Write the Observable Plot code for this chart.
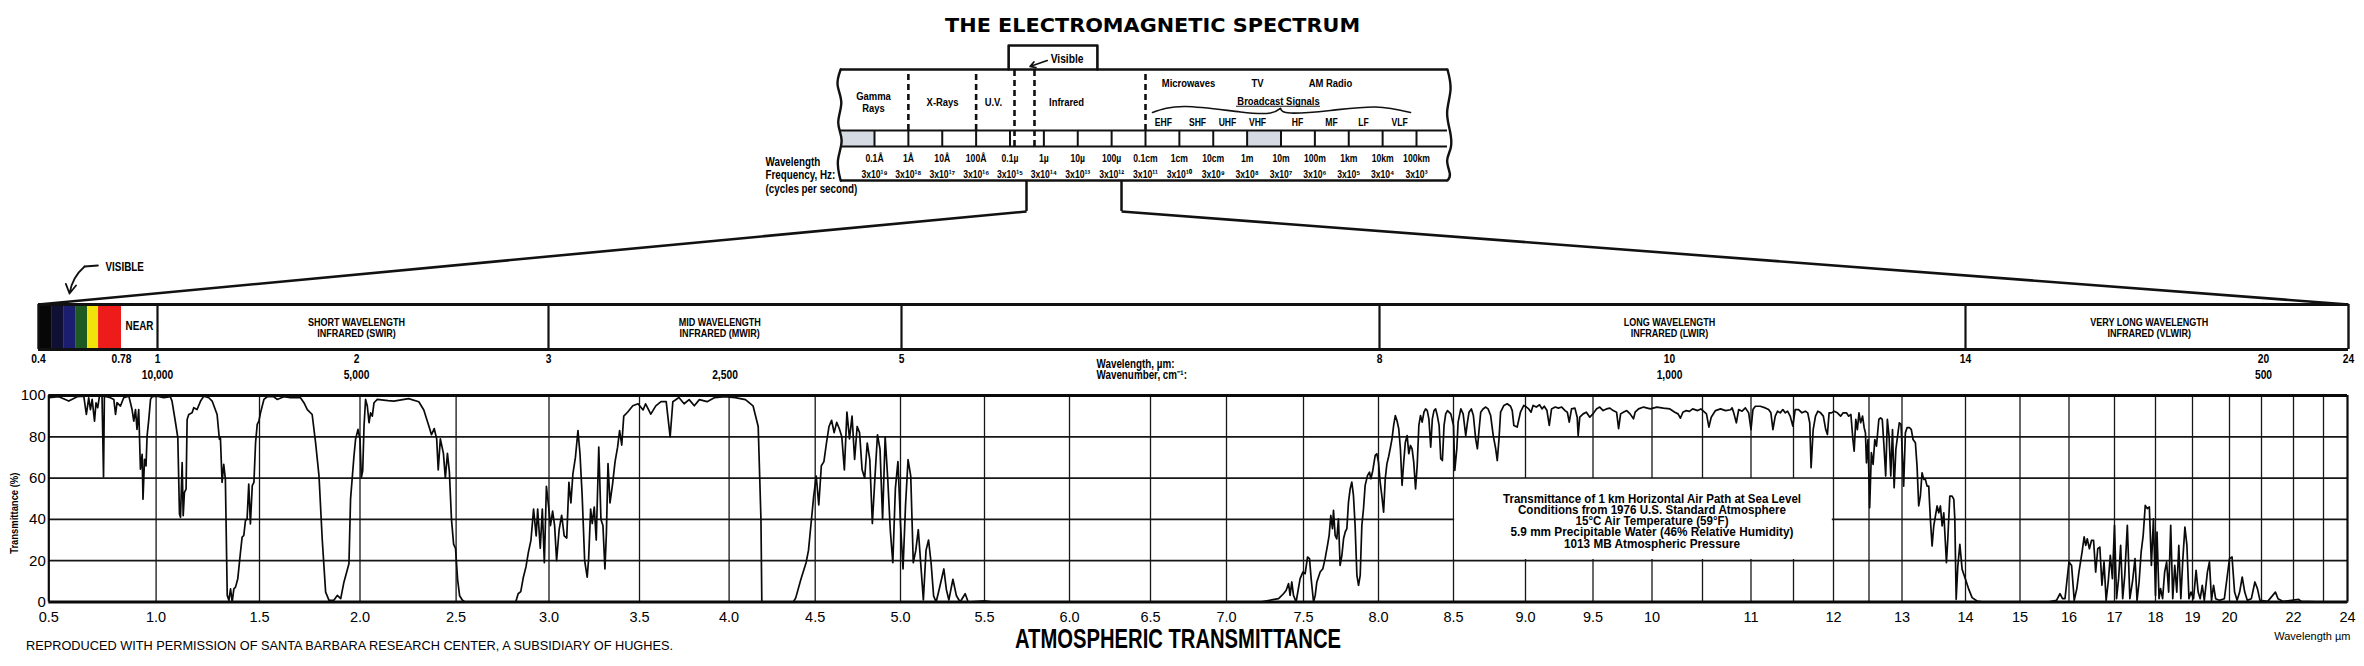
<!DOCTYPE html>
<html><head><meta charset="utf-8">
<script src="https://cdn.jsdelivr.net/npm/d3@7"></script>
<script src="https://cdn.jsdelivr.net/npm/@observablehq/plot@0.6"></script>
<style>
html,body{margin:0;padding:0;background:#fff}
#root{position:relative;width:2364px;height:666px;background:#fff;overflow:hidden}
#root > svg{position:absolute;left:0}
</style></head><body><div id="root"></div>
<script>
// ---------------- DATA ----------------
// Electromagnetic spectrum diagram: x = log10(wavelength / m)
const emDecades = [-11,-10,-9,-8,-7,-6,-5,-4,-3,-2,-1,0,1,2,3,4,5];
const emWavelengthLabels = ["0.1Å","1Å","10Å","100Å","0.1µ","1µ","10µ","100µ","0.1cm","1cm","10cm","1m","10m","100m","1km","10km","100km"];
const emFrequencyLabels = ["3x10¹⁹","3x10¹⁸","3x10¹⁷","3x10¹⁶","3x10¹⁵","3x10¹⁴","3x10¹³","3x10¹²","3x10¹¹","3x10¹⁰","3x10⁹","3x10⁸","3x10⁷","3x10⁶","3x10⁵","3x10⁴","3x10³"];
const emRegionNames = ["Gamma","Rays","X-Rays","U.V.","Infrared","Microwaves","TV","AM Radio","Broadcast Signals"];
const emRegionAt = [-11.03,-11.03,-8.99,-7.49,-5.33,-1.73,0.306,2.46,0.926];
const emBandNames = ["EHF","SHF","UHF","VHF","HF","MF","LF","VLF"];
const emBandAt = [-2.47,-1.465,-0.58,0.306,1.487,2.49,3.435,4.50];
const emBoundaries = [-10,-8,-3];          // Gamma|X, X|UV, IR|Microwave
const emVisibleBounds = [-6.867,-6.277];   // visible slice
const emShadedCells = [[-12,-11],[0,1]];
const emVisibleBox = [-7.04,-4.42];
const emFanStubs = [-6.513,-3.708];

// Infrared band bar: x = wavelength (µm)
const bandTicks = [0.4,0.78,1,2,3,5,8,10,14,20,24];
const bandDividers = [1,3,5,8,14];
const visibleEdges = [0.40,0.46,0.515,0.57,0.625,0.675,0.78];
const visibleColors = ["#070707","#0f1034","#1c1d6e","#1c5a22","#f2e20c","#ee1b1b"];
const irBandNames = [["SHORT WAVELENGTH","INFRARED (SWIR)"],["MID WAVELENGTH","INFRARED (MWIR)"],["LONG WAVELENGTH","INFRARED (LWIR)"],["VERY LONG WAVELENGTH","INFRARED (VLWIR)"]];
const irBandAt = [2,3.97,10,17.7];
const wavenumberAt = [1,2,4,10,20];
const wavenumberLabels = ["10,000","5,000","2,500","1,000","500"];
const fanOrigins = [5.785,6.381];
const fanTargets = [0.4,24];

// Atmospheric transmittance chart
const xGrid = [0.5,1,1.5,2,2.5,3,3.5,4,4.5,5,5.5,6,6.5,7,7.5,8,8.5,9,9.5,10,10.5,11,11.5,12,12.5,13,14,15,16,17,18,19,20,21,22,23,24];
const xTicks = [0.5,1,1.5,2,2.5,3,3.5,4,4.5,5,5.5,6,6.5,7,7.5,8,8.5,9,9.5,10,11,12,13,14,15,16,17,18,19,20,22,24];
const xTickLabels = ["0.5","1.0","1.5","2.0","2.5","3.0","3.5","4.0","4.5","5.0","5.5","6.0","6.5","7.0","7.5","8.0","8.5","9.0","9.5","10","11","12","13","14","15","16","17","18","19","20","22","24"];
const yTicks = [0,20,40,60,80,100];
const noteLines = ["Transmittance of 1 km Horizontal Air Path at Sea Level","Conditions from 1976 U.S. Standard Atmosphere","15°C Air Temperature (59°F)","5.9 mm Precipitable Water (46% Relative Humidity)","1013 MB Atmospheric Pressure"];
const noteBox = {x1:8.5, x2:12, y1:20, y2:60};

// transmittance (%) vs wavelength (µm)
const tVisNir = [[0.500,99.0],[0.547,99.4],[0.593,97.3],[0.632,99.4],[0.663,99.7],[0.675,90.8],[0.686,98.9],[0.694,93.2],[0.702,98.1],[0.713,87.6],[0.720,96.5],[0.728,94.1],[0.736,99.7],[0.748,99.7],[0.755,60.6],[0.759,99.7],[0.787,98.9],[0.803,98.1],[0.811,90.8],[0.818,96.5],[0.834,94.9],[0.849,98.9],[0.873,99.7],[0.888,93.2],[0.896,87.6],[0.904,93.2],[0.911,83.6],[0.919,93.2],[0.927,64.3],[0.935,71.5],[0.939,49.8],[0.946,69.1],[0.953,65.9],[0.958,80.4],[0.966,88.4],[0.974,98.1],[0.981,99.4],
[1.005,99.7],[1.037,98.9],[1.069,99.4],[1.077,97.3],[1.094,86.8],[1.105,79.6],[1.113,42.6],[1.118,41.0],[1.126,67.5],[1.131,41.8],[1.137,53.1],[1.145,54.7],[1.150,88.4],[1.158,90.8],[1.174,91.6],[1.182,94.1],[1.198,93.2],[1.215,97.3],[1.231,99.7],[1.255,98.9],[1.271,97.3],[1.295,90.8],[1.306,78.8],[1.311,79.6],[1.319,57.9],[1.327,66.7],[1.335,59.5],[1.344,3.2],[1.352,0.8],[1.360,6.4],[1.368,0],[1.376,6.4],[1.384,7.2],[1.395,11.3],[1.408,24.1],[1.416,31.4],[1.424,32.2],[1.432,39.4],[1.440,40.2],[1.448,57.1],[1.456,37.8],[1.465,56.3],[1.473,57.9],[1.481,77.2],[1.489,86.0],[1.497,87.6]];
const tSwir = [[1.505,91.6],[1.522,98.1],[1.538,99.4],[1.571,99.4],[1.588,98.1],[1.621,99.4],[1.654,98.9],[1.704,98.9],[1.721,96.5],[1.738,93.2],[1.762,90.8],[1.779,77.2],[1.796,61.1],[1.812,30.5],[1.829,4.8],[1.846,0.8],[1.870,0.8],[1.887,3.2],[1.904,1.6],[1.920,9.6],[1.945,18.5],[1.953,49.8],[1.970,70.7],[1.978,78.8],[1.990,83.6],[2.000,78.8],
[2.007,60.3],[2.014,63.5],[2.021,85.2],[2.029,98.1],[2.038,94.9],[2.047,86.8],[2.055,91.6],[2.064,90.0],[2.073,96.5],[2.090,98.1],[2.146,97.5],[2.176,97.3],[2.253,98.5],[2.306,97],[2.332,93],[2.359,85],[2.372,81],[2.386,84],[2.399,79],[2.407,64],[2.418,79],[2.434,72],[2.444,60],[2.455,72],[2.465,63],[2.476,40],[2.487,28],[2.497,26],[2.508,11],[2.519,3],[2.533,1],[2.547,0]];
const tMwir = [[2.821,0],[2.834,4],[2.848,5],[2.862,12],[2.876,17],[2.889,24],[2.903,30],[2.917,45],[2.931,32],[2.939,45],[2.953,26],[2.964,45],[2.975,19],[2.986,56],[2.997,47],[3.008,37],[3.020,44],[3.031,37],[3.042,20],[3.056,35],[3.070,42],[3.084,32],[3.098,31],[3.110,58],[3.121,48],[3.132,62],[3.146,70],[3.160,83],[3.171,72],[3.183,52],[3.197,20],[3.211,12],[3.219,21],[3.230,45],[3.239,38],[3.250,46],[3.261,30],[3.275,75],[3.287,40],[3.298,37],[3.309,16],[3.317,33],[3.326,67],[3.337,48],[3.351,57],[3.365,68],[3.379,75],[3.390,83],[3.402,76],[3.413,90],[3.435,92],[3.463,95],[3.492,96],[3.520,93],[3.534,96],[3.563,91],[3.591,95],[3.620,97],[3.649,97],[3.671,80],[3.686,97],[3.720,99],[3.749,96],[3.777,98],[3.806,95],[3.834,98],[3.877,97],[3.920,99],[3.977,99.5],[4.035,99],[4.095,98],[4.139,95],[4.169,85],[4.185,40],[4.190,0],
[4.299,0],[4.373,0],[4.387,2],[4.417,11],[4.447,19],[4.461,25],[4.476,38],[4.491,51],[4.506,61],[4.521,47],[4.536,66],[4.551,68],[4.566,77],[4.581,85],[4.596,88],[4.611,82],[4.626,87],[4.641,84],[4.656,80],[4.671,64],[4.686,92],[4.701,79],[4.716,90],[4.731,69],[4.746,85],[4.760,82],[4.775,64],[4.790,60],[4.805,77],[4.820,69],[4.835,38],[4.850,60],[4.865,81],[4.880,74],[4.895,40],[4.910,80],[4.925,60],[4.940,35],[4.955,19],[4.970,55],[4.985,68],[5.000,38],[5.015,16],[5.030,47],[5.045,69],[5.061,61],[5.076,19],[5.091,25],[5.106,35],[5.121,18],[5.136,1],[5.152,25],[5.167,30],[5.182,19],[5.197,3],[5.212,0],[5.227,5],[5.258,16],[5.273,6],[5.288,1],[5.312,11],[5.333,3],[5.355,0],[5.385,4],[5.403,0],[5.5,0.5],[5.55,0]];
const tLwir = [[7.219,0],[7.338,1.6],[7.370,4],[7.387,5.6],[7.403,8.9],[7.413,3.2],[7.424,9.7],[7.435,3.2],[7.452,0],[7.478,11.3],[7.496,14.5],[7.511,13.7],[7.527,21.8],[7.540,21],[7.551,11.3],[7.567,0],[7.578,3.2],[7.589,9.7],[7.611,14.5],[7.629,16.1],[7.644,21],[7.660,27.4],[7.671,32.3],[7.682,41.9],[7.693,35.5],[7.700,44.4],[7.711,32.3],[7.722,30.6],[7.733,40.3],[7.744,17.7],[7.756,22.6],[7.767,30.6],[7.778,33.9],[7.789,35.5],[7.800,48.4],[7.811,54.8],[7.822,58.1],[7.833,51.6],[7.844,37.1],[7.856,12.9],[7.867,8.1],[7.878,12.9],[7.889,37.1],[7.900,45.2],[7.911,56.5],[7.927,61.3],[7.940,62.9],[7.949,59.7],[7.962,63.7],[7.978,71],[7.989,71.8],[8.000,67.7],[8.011,58.1],[8.022,51.6],[8.034,43.5],[8.045,59.7],[8.056,66.9],[8.067,70.2],[8.078,74.2],[8.090,79],[8.101,85.5],[8.112,90.3],[8.123,87.9],[8.135,83.9],[8.146,74.2],[8.157,56.5],[8.168,67.7],[8.179,77.4],[8.191,80.6],[8.202,71.8],[8.213,75.8],[8.224,74.2],[8.235,67.7],[8.247,54.8],[8.258,66.1],[8.269,85.5],[8.280,90.3],[8.291,87.1],[8.303,91.9],[8.314,93.5],[8.325,92.7],[8.336,88.7],[8.348,75],[8.359,88.7],[8.370,92.7],[8.381,93.5],[8.392,90.3],[8.404,85.5],[8.415,69.4],[8.426,68.5],[8.437,85.5],[8.448,91.1],[8.460,92.7],[8.482,91.1],[8.500,85.5],[8.509,63.7],[8.523,74.2],[8.532,87.1],[8.551,93.5],[8.567,91.1],[8.585,80.6],[8.597,87.1],[8.608,91.9],[8.624,93.5],[8.638,90.3],[8.654,79],[8.666,74.2],[8.677,83],[8.689,91.9],[8.705,93.5],[8.724,94.4],[8.740,93.5],[8.758,90.3],[8.776,80.6],[8.793,74.2],[8.804,68.5],[8.816,79],[8.827,91.9],[8.850,95.2],[8.873,96],[8.896,94.8],[8.908,92.7],[8.919,85.5],[8.942,84.7],[8.965,91.9],[8.988,95.2],[9.007,94.4],[9.024,93.5],[9.041,91.9],[9.056,95.2],[9.080,94.4],[9.105,95.5],[9.122,93.5],[9.139,94.8],[9.159,92.7],[9.176,85.5],[9.193,93.5],[9.220,94.4],[9.244,93.9],[9.268,94.4],[9.293,92.7],[9.310,91.9],[9.324,87.1],[9.341,93.5],[9.366,93.9],[9.383,89.5],[9.390,80.6],[9.402,89.5],[9.427,91.1],[9.451,91.9],[9.476,89.5],[9.500,91.1],[9.529,93.5],[9.557,94.4],[9.586,92.7],[9.614,93.5],[9.643,93.9],[9.671,92.7],[9.700,91.9],[9.717,84],[9.734,91.1],[9.757,91.9],[9.786,92.7],[9.814,91.1],[9.843,88.7],[9.857,91.9],[9.886,93.5],[9.929,94.4],[9.986,93.5],[10.048,94.4],[10.113,93.9],[10.177,93.5],[10.226,91.9],[10.258,91.1],[10.281,89],[10.306,91.9],[10.339,92.7],[10.371,92.3],[10.403,93.5],[10.452,92.7],[10.484,93.5],[10.541,91.1],[10.566,84.7],[10.590,89.5],[10.634,92.7],[10.686,93.5],[10.738,92.7],[10.790,93.1]];
const tLwir2 = [[10.805,94],[10.822,91.6],[10.849,86.8],[10.873,93.2],[10.908,92.4],[10.942,94],[10.976,91.6],[11.000,83.5],[11.023,93.2],[11.051,94.8],[11.109,94.8],[11.168,94],[11.207,93.2],[11.234,91.6],[11.258,83.5],[11.285,90],[11.313,92.4],[11.344,91.6],[11.375,93.2],[11.402,91.6],[11.430,92.4],[11.461,90],[11.492,85.2],[11.521,93.2],[11.564,93.2],[11.606,91.6],[11.648,92.4],[11.678,91.6],[11.703,86.8],[11.720,65],[11.746,83.5],[11.775,90],[11.805,92.4],[11.839,91.6],[11.873,90],[11.903,83.5],[11.924,81.1],[11.945,91.6],[11.975,91.6],[12.009,92.4],[12.055,91.6],[12.100,90],[12.136,91.6],[12.182,91.6],[12.214,90],[12.245,90.8],[12.273,78.7],[12.291,73],[12.314,88.4],[12.336,83.5],[12.359,91.6],[12.382,86.8],[12.409,90],[12.432,84.4],[12.450,81.9],[12.464,67.4],[12.486,78.7],[12.510,45.6],[12.536,72.3],[12.562,66.6],[12.588,78.7],[12.613,75.5],[12.649,88.4],[12.675,89.2],[12.701,88.4],[12.727,75.5],[12.753,61],[12.778,88.4],[12.804,80.3],[12.830,61],[12.856,83.5],[12.881,55.3],[12.907,73.9],[12.933,80.3],[12.959,86.8],[12.985,86],[13.000,75.5],[13.026,56.1],[13.053,81.9],[13.079,84.4],[13.121,84.4],[13.147,83.5],[13.174,78.7],[13.211,77.1],[13.237,65.8],[13.263,46.5],[13.289,51.3],[13.316,62.6],[13.342,59.4],[13.368,59.4],[13.395,56.1],[13.421,56.1],[13.447,40],[13.474,27.1],[13.500,36.8],[13.526,41.6],[13.553,46.5],[13.579,43.2],[13.605,46.5],[13.632,36.8],[13.658,43.2],[13.700,19],[13.721,30.3],[13.753,51.3],[13.789,51.3],[13.816,49.7],[13.832,40],[13.853,1.3],[13.879,17.4],[13.911,27.9],[13.947,15.8],[14.000,11],[14.061,6.1],[14.121,2.1],[14.212,0.5],[14.333,0]];
const tVlwir = [[15.561,0],[15.745,0.8],[15.816,4],[15.867,1.6],[15.918,1.6],[16.000,19.4],[16.057,17.7],[16.115,0.8],[16.172,6.5],[16.218,14.5],[16.287,24.2],[16.333,31.5],[16.368,27.4],[16.402,30.6],[16.448,25.8],[16.494,29.8],[16.540,29.8],[16.586,14.5],[16.632,25.8],[16.678,26.6],[16.724,8.1],[16.770,19.4],[16.816,0.8],[16.862,9.7],[16.908,22.6],[16.954,11.3],[17.000,37.1],[17.050,1.6],[17.100,11.3],[17.150,27.4],[17.200,1.6],[17.250,12.9],[17.313,37.1],[17.375,1.6],[17.438,9.7],[17.500,21],[17.550,0.8],[17.600,9.7],[17.650,24.2],[17.700,32.3],[17.750,46.8],[17.800,45.2],[17.850,46],[17.900,17.7],[17.950,40.3],[18.000,3.2],[18.041,33.9],[18.096,1.6],[18.137,6.5],[18.192,1.6],[18.247,14.5],[18.301,19.4],[18.356,4.8],[18.411,37.1],[18.466,1.6],[18.521,17.7],[18.575,4.8],[18.630,27.4],[18.685,1.6],[18.740,21],[18.795,36.3],[18.849,27.4],[18.904,1.6],[18.959,4.8],[19.028,1.6],[19.097,15.3],[19.153,4.8],[19.208,1.6],[19.264,8.1],[19.319,0.8],[19.403,14.5],[19.458,19.4],[19.514,0.8],[19.569,8.1],[19.625,1.6],[19.722,0.8],[19.861,1.6],[19.931,11.3],[20.000,21],[20.079,21.8],[20.159,4.8],[20.238,0.8],[20.317,4.8],[20.397,12.1],[20.476,4.8],[20.556,0.8],[20.683,1.6],[20.794,9.7],[20.873,6.5],[20.952,0.8],[21.194,0.3],[21.435,4.8],[21.516,1.6],[21.677,0.3],[22.172,1.3],[22.259,0.3],[23.0,0],[24.0,0]];

// ---------------- LAYOUT ----------------
const NARROW = "'Liberation Sans',Arial,sans-serif";        // condensed below to mimic a narrow face
const SANS = "'Liberation Sans',Helvetica,sans-serif";
const W = 2364;
const root = document.getElementById("root");
const transparent = {background: "transparent", overflow: "visible"};

// row levels of the spectrum diagram (0 = bottom line, 1 = top line)
const R = {title:1.396, visTop:1.216, vis:1.099, top:1, radio:0.874, gamma:0.757, region:0.703, rays:0.649,
  broadcast:0.712, underline:0.669, band:0.523, cellTop:0.45, cellBot:0.306, wl:0.198, fq:0.054, bottom:0, stub:-0.279,
  leftWl:0.162, leftFq:0.045, leftCyc:-0.081};
const emLeft = -12, emRight = 5.915;

const p1 = Plot.plot({
  width: W, height: 213, margin: 0, style: transparent,
  x: {type: "linear", domain: [-11, 5], range: [874, 1416], axis: null},
  y: {domain: [0, 1], range: [180, 69], axis: null},
  marks: [
    Plot.rect(emShadedCells, {x1: d => d[0], x2: d => d[1], y1: R.cellBot, y2: R.cellTop, fill: "#d6dae2"}),
    Plot.ruleY([R.top, R.bottom], {x1: emLeft, x2: emRight, stroke: "#111", strokeWidth: 2.6}),
    Plot.ruleY([R.cellTop, R.cellBot], {x1: emLeft, x2: emRight, stroke: "#111", strokeWidth: 2}),
    Plot.ruleX(emDecades, {y1: R.cellBot, y2: R.cellTop, stroke: "#111", strokeWidth: 2}),
    Plot.ruleX(emBoundaries, {y1: R.cellTop, y2: R.top, stroke: "#111", strokeWidth: 2.6, strokeDasharray: "6,4"}),
    Plot.ruleX(emVisibleBounds, {y1: R.cellBot, y2: R.top, stroke: "#111", strokeWidth: 2.6, strokeDasharray: "6,4"}),
    Plot.line([[emLeft,1],[emLeft-0.09,0.86],[emLeft+0.02,0.7],[emLeft-0.07,0.52],[emLeft+0.03,0.36],[emLeft-0.08,0.18],[emLeft,0]], {curve: "natural", stroke: "#111", strokeWidth: 2.4}),
    Plot.line([[emRight,1],[emRight+0.09,0.82],[emRight-0.01,0.62],[emRight+0.07,0.45],[emRight+0.1,0.3],[emRight-0.01,0.18],[emRight+0.07,0.06],[emRight,0]], {curve: "natural", stroke: "#111", strokeWidth: 2.4}),
    Plot.line([[emVisibleBox[0],R.top],[emVisibleBox[0],R.visTop],[emVisibleBox[1],R.visTop],[emVisibleBox[1],R.top]], {stroke: "#111", strokeWidth: 2.6}),
    Plot.arrow([0], {x1: -5.90, y1: 1.081, x2: -6.41, y2: 1.027, stroke: "#111", strokeWidth: 1.6, headLength: 6}),
    Plot.line([[-2.793,0.613],[-1.819,0.667],[-0.196,0.617],[0.69,0.608],[0.985,0.649]], {curve: "natural", stroke: "#111", strokeWidth: 1.6}),
    Plot.line([[0.985,0.649],[1.28,0.608],[2.461,0.631],[3.79,0.662],[4.823,0.613]], {curve: "natural", stroke: "#111", strokeWidth: 1.6}),
    Plot.ruleY([R.underline], {x1: -0.314, x2: 2.166, stroke: "#111", strokeWidth: 1.2}),
    Plot.ruleX(emFanStubs, {y1: R.bottom, y2: R.stub, stroke: "#111", strokeWidth: 2.5}),
    Plot.text(["THE ELECTROMAGNETIC SPECTRUM"], {x: -2.79, y: R.title, text: d => d, fontFamily: "'DejaVu Sans',sans-serif", fontWeight: "bold", fontSize: 20}),
    Plot.text(["Visible"], {x: -5.80, y: R.vis, text: d => d, textAnchor: "start", fontFamily: NARROW, fontWeight: "bold", fontSize: 12.5}),
    Plot.text(emRegionNames, {x: (d, i) => emRegionAt[i], y: (d, i) => [R.gamma, R.rays, R.region, R.region, R.region, R.radio, R.radio, R.radio, R.broadcast][i], text: d => d, fontFamily: NARROW, fontWeight: "bold", fontSize: 11.5}),
    Plot.text(emBandNames, {x: (d, i) => emBandAt[i], y: R.band, text: d => d, fontFamily: NARROW, fontWeight: "bold", fontSize: 10.5}),
    Plot.text(emWavelengthLabels, {x: (d, i) => emDecades[i], y: R.wl, text: d => d, fontFamily: NARROW, fontWeight: "bold", fontSize: 10.5}),
    Plot.text(emFrequencyLabels, {x: (d, i) => emDecades[i], y: R.fq, text: d => d, fontFamily: NARROW, fontWeight: "bold", fontSize: 10.5}),
    Plot.text(["Wavelength","Frequency, Hz:","(cycles per second)"], {x: -14.218, y: (d, i) => [R.leftWl, R.leftFq, R.leftCyc][i], text: d => d, textAnchor: "start", fontFamily: NARROW, fontWeight: "bold", fontSize: 12})
  ]
});
p1.style.top = "0px";
root.appendChild(p1);

// ---------- infrared band bar ----------
const B = {fanTop: 3.067, visText: 1.822, line1: 0.611, line2: 0.356, near: 0.527, tick: -0.222, wn: -0.556, wlLab: -0.333, wnLab: -0.578};
const stripes = visibleColors.map((c, i) => ({x1: visibleEdges[i], x2: visibleEdges[i + 1], c}));
const irLabels = irBandNames.flatMap((lines, i) => lines.map((t, j) => ({t, x: irBandAt[i], y: j === 0 ? B.line1 : B.line2})));
const p2 = Plot.plot({
  width: W, height: 185, margin: 0, style: transparent,
  x: {type: "linear", domain: bandTicks, range: [38,121,157,356,548,901,1379,1669,1965,2263,2348], axis: null},
  y: {domain: [0, 1], range: [144, 99], axis: null},
  marks: [
    Plot.rect(stripes, {x1: "x1", x2: "x2", y1: 0, y2: 1, fill: d => d.c}),
    Plot.ruleX(bandDividers, {y1: 0, y2: 1, stroke: "#111", strokeWidth: 2.2}),
    Plot.ruleY([0, 1], {x1: 0.4, x2: 24, stroke: "#111", strokeWidth: 3}),
    Plot.ruleX([0.4, 24], {y1: 0, y2: 1, stroke: "#111", strokeWidth: 2.4}),
    Plot.link(fanOrigins, {x1: d => d, y1: B.fanTop, x2: (d, i) => fanTargets[i], y2: 1, stroke: "#111", strokeWidth: 2.6}),
    Plot.line([[0.672,1.867],[0.611,1.844]], {stroke: "#111", strokeWidth: 1.8}),
    Plot.arrow([0], {x1: 0.611, y1: 1.844, x2: 0.542, y2: 1.244, bend: -20, stroke: "#111", strokeWidth: 1.8, headLength: 9}),
    Plot.text(["VISIBLE"], {x: 0.707, y: B.visText, text: d => d, textAnchor: "start", fontFamily: NARROW, fontWeight: "bold", fontSize: 12}),
    Plot.text(["NEAR"], {x: 0.89, y: B.near, text: d => d, fontFamily: NARROW, fontWeight: "bold", fontSize: 12}),
    Plot.text(irLabels, {x: "x", y: "y", text: "t", fontFamily: NARROW, fontWeight: "bold", fontSize: 11}),
    Plot.text(bandTicks, {x: d => d, y: B.tick, text: d => String(d), fontFamily: NARROW, fontWeight: "bold", fontSize: 12.5}),
    Plot.text(wavenumberLabels, {x: (d, i) => wavenumberAt[i], y: B.wn, text: d => d, fontFamily: NARROW, fontWeight: "bold", fontSize: 12.5}),
    Plot.text(["Wavelength, µm:", "Wavenumber, cm⁻¹:"], {x: 6.224, y: (d, i) => i ? B.wnLab : B.wlLab, text: d => d, textAnchor: "start", fontFamily: NARROW, fontWeight: "bold", fontSize: 12})
  ]
});
p2.style.top = "205px";
root.appendChild(p2);

// ---------- atmospheric transmittance chart ----------
const curve = [...tVisNir, ...tSwir, ...tMwir, ...tLwir, ...tLwir2, ...tVlwir];
const p3 = Plot.plot({
  width: W, height: 281, marginLeft: 48, marginRight: 17, marginTop: 10, marginBottom: 64.5, style: transparent,
  x: {type: "linear", domain: xGrid,
      range: [48.3,155.6,259,359.5,455.6,548.5,639,728.6,814.7,900,984,1069,1150,1226,1303,1378,1453,1525,1592.5,1651.5,1702,1750.5,1793,1833,1868.5,1901.5,1965,2019.5,2068.5,2114,2155,2192,2229,2261,2293,2323,2347],
      axis: null},
  y: {domain: [0, 100], range: [216.5, 10], axis: null},
  marks: [
    Plot.ruleX(xGrid.slice(1, -1), {y1: 0, y2: 100, stroke: "#161616", strokeWidth: 1.3}),
    Plot.ruleY([20, 40, 60, 80], {x1: 0.5, x2: 24, stroke: "#161616", strokeWidth: 1.7}),
    Plot.rect([noteBox], {x1: "x1", x2: "x2", y1: "y1", y2: "y2", fill: "white", inset: 1.2}),
    Plot.line(curve, {stroke: "#0a0a0a", strokeWidth: 1.7, strokeLinejoin: "round"}),
    Plot.ruleY([0, 100], {x1: 0.5, x2: 24, stroke: "#0a0a0a", strokeWidth: 3}),
    Plot.ruleX([0.5, 24], {y1: 0, y2: 100, stroke: "#0a0a0a", strokeWidth: 2.2}),
    Plot.text(yTicks, {x: 0.5, y: d => d, text: d => String(d), textAnchor: "end", dx: -3, fontFamily: SANS, fontSize: 15}),
    Plot.text(xTicks, {x: d => d, y: 0, text: (d, i) => xTickLabels[i], dy: 15, fontFamily: SANS, fontSize: 14.5}),
    Plot.text(["Transmittance (%)"], {x: 0.5, y: 43, text: d => d, dx: -34, rotate: -90, fontFamily: NARROW, fontWeight: "bold", fontSize: 11.5}),
    Plot.text(noteLines, {x: 10, y: (d, i) => 50 - i * 5.45, text: d => d, fontFamily: NARROW, fontWeight: "bold", fontSize: 12}),
    Plot.text(["ATMOSPHERIC TRANSMITTANCE"], {frameAnchor: "bottom", text: d => d, dx: -20, dy: 45.5, fontFamily: NARROW, fontWeight: "bold", fontSize: 27}),
    Plot.text(["REPRODUCED WITH PERMISSION OF SANTA BARBARA RESEARCH CENTER, A SUBSIDIARY OF HUGHES."], {frameAnchor: "bottom-left", textAnchor: "start", text: d => d, dx: -22.5, dy: 47.5, fontFamily: NARROW, fontSize: 13}),
    Plot.text(["Wavelength µm"], {frameAnchor: "bottom-right", textAnchor: "end", text: d => d, dx: 3, dy: 37.5, fontFamily: SANS, fontSize: 11})
  ]
});
p3.style.top = "385px";
root.appendChild(p3);

const fitWidths = {
  "THE ELECTROMAGNETIC SPECTRUM": 415,
  "ATMOSPHERIC TRANSMITTANCE": 326,
  "REPRODUCED WITH PERMISSION OF SANTA BARBARA RESEARCH CENTER, A SUBSIDIARY OF HUGHES.": 647,
  "Transmittance of 1 km Horizontal Air Path at Sea Level": 298,
  "Conditions from 1976 U.S. Standard Atmosphere": 268,
  "15°C Air Temperature (59°F)": 153,
  "5.9 mm Precipitable Water (46% Relative Humidity)": 283,
  "1013 MB Atmospheric Pressure": 176
};
[p1, p2, p3].forEach(svg => svg.querySelectorAll("text").forEach(t => {
  const w = fitWidths[t.textContent];
  let target = w;
  if (!target) {
    const g = t.closest("[font-family]");
    const fam = g ? g.getAttribute("font-family") : "";
    if (fam === NARROW) target = t.getComputedTextLength() * 0.82;
  }
  if (target) { t.setAttribute("textLength", target.toFixed(1)); t.setAttribute("lengthAdjust", "spacingAndGlyphs"); }
}));
</script></body></html>
